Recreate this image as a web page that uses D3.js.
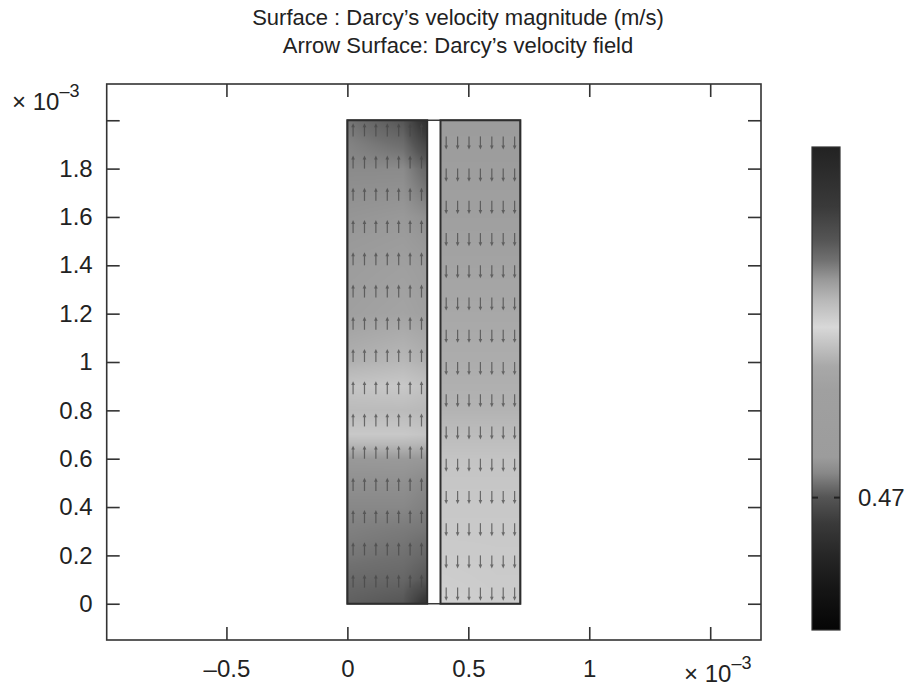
<!DOCTYPE html>
<html>
<head>
<meta charset="utf-8">
<script src="https://cdn.jsdelivr.net/npm/d3@7"></script>
<style>
  body { margin: 0; background: #fff; }
  svg { display: block; }
  text { font-family: "Liberation Sans", Arial, Helvetica, sans-serif; fill: #222; }
</style>
</head>
<body>
<svg id="chart" width="912" height="686"></svg>
<script>
// ---- data (units of 1e-3 m for geometry) ----
const titleLines = ["Surface : Darcy\u2019s velocity magnitude (m/s)", "Arrow Surface: Darcy\u2019s velocity field"];
const xTicks = [-0.5, 0, 0.5, 1, 1.5];
const yTicks = [0, 0.2, 0.4, 0.6, 0.8, 1, 1.2, 1.4, 1.6, 1.8, 2];
const upChannel = [0, 0.33];       // left channel, flow upwards
const downChannel = [0.385, 0.715]; // right channel, flow downwards
const channelHeight = [0, 2];

// velocity magnitude read along the channel height, at three positions across each channel
const fieldY       = [0, 0.1, 0.2, 0.3, 0.4, 0.5, 0.6, 0.7, 0.8, 0.9, 1.0, 1.2, 1.4, 1.6, 1.8, 1.9, 2.0];
const upLeftEdge   = [1.167, 1.146, 1.125, 1.113, 1.102, 1.091, 1.079, 0.984, 1.015, 0.994, 1.037, 1.067, 1.073, 1.084, 1.098, 1.108, 1.125];
const upInner      = [1.189, 1.154, 1.134, 1.121, 1.102, 1.091, 1.078, 0.984, 1.015, 0.984, 1.022, 1.059, 1.067, 1.079, 1.098, 1.140, 1.189];
const upRightEdge  = [1.331, 1.189, 1.154, 1.128, 1.113, 1.102, 1.080, 0.994, 1.022, 1.003, 1.037, 1.067, 1.073, 1.091, 1.154, 1.248, 1.353];
const downLeftEdge = [0.965, 0.972, 0.978, 0.982, 0.984, 0.989, 0.994, 1.013, 1.031, 1.037, 1.043, 1.052, 1.060, 1.067, 1.070, 1.072, 1.073];
const downInner    = [0.975, 0.978, 0.980, 0.982, 0.984, 0.989, 0.994, 1.013, 1.031, 1.037, 1.043, 1.052, 1.060, 1.067, 1.070, 1.072, 1.073];
const downRightEdge= [0.975, 0.978, 0.980, 0.982, 0.984, 0.989, 0.994, 1.013, 1.031, 1.037, 1.043, 1.052, 1.060, 1.067, 1.070, 1.072, 1.073];
const acrossFrac = [0, 0.7, 1];

// arrow grid (cells per channel) and direction of flow
const arrowCols = 7, arrowRows = 15;
const upDir = 1, downDir = -1;

// colour bar (grayscale rendering of the rainbow map)
const colorRange = [0.1, 1.45];
const cmapStops = [0, 0.083, 0.151, 0.222, 0.275, 0.296, 0.325, 0.358, 0.497, 0.545, 0.586, 0.627, 0.683, 0.725, 0.766, 0.807, 0.876, 1.0];
const cmapGray  = [5, 21, 37, 58, 85, 106, 136, 156, 160, 168, 192, 216, 184, 153, 112, 85, 58, 34];
const colorbarTicks = [0.47];

// ---- layout ----
const svg = d3.select("#chart");
const frame = {left: 106.7, right: 761, top: 84, bottom: 640};
const x = d3.scaleLinear().domain([-0.995, 1.71]).range([frame.left, frame.right]);
const y = d3.scaleLinear().domain([-0.15, 2.15]).range([frame.bottom, frame.top]);
const tickLen = 13;
const labelSize = "24px";

const vScale = d3.scaleLinear().domain([0, 1]).range(colorRange);
const cmap = d3.scaleLinear()
    .domain(cmapStops.map(vScale))
    .range(cmapGray.map(g => d3.rgb(g, g, g)))
    .clamp(true);

// title
svg.append("g").selectAll("text")
    .data(titleLines)
    .enter().append("text")
    .attr("x", 458)
    .attr("y", (d, i) => 25 + i * 28)
    .attr("text-anchor", "middle")
    .style("font-size", "22px")
    .text(d => d);

// ---- surface ----
function interp(arr, yy) {
  let i = d3.bisectRight(fieldY, yy) - 1;
  i = Math.max(0, Math.min(fieldY.length - 2, i));
  const t = (yy - fieldY[i]) / (fieldY[i + 1] - fieldY[i]);
  return arr[i] + (arr[i + 1] - arr[i]) * t;
}

function drawSurface(ch, cols) {
  const px0 = Math.round(x(ch[0])), px1 = Math.round(x(ch[1]));
  const py0 = Math.round(y(channelHeight[1])), py1 = Math.round(y(channelHeight[0]));
  const w = px1 - px0, h = py1 - py0;
  const cv = document.createElement("canvas");
  cv.width = w; cv.height = h;
  const ctx = cv.getContext("2d");
  const img = ctx.createImageData(w, h);
  for (let j = 0; j < h; j++) {
    const yy = y.invert(py0 + j + 0.5);
    const colVals = cols.map(c => interp(c, yy));
    for (let i = 0; i < w; i++) {
      const u = (x.invert(px0 + i + 0.5) - ch[0]) / (ch[1] - ch[0]);
      let k = u < acrossFrac[1] ? 0 : 1;
      const t = Math.max(0, Math.min(1, (u - acrossFrac[k]) / (acrossFrac[k + 1] - acrossFrac[k])));
      const v = colVals[k] + (colVals[k + 1] - colVals[k]) * t;
      const c = d3.rgb(cmap(v));
      const p = (j * w + i) * 4;
      img.data[p] = c.r; img.data[p + 1] = c.g; img.data[p + 2] = c.b; img.data[p + 3] = 255;
    }
  }
  ctx.putImageData(img, 0, 0);
  svg.append("image")
      .attr("x", px0).attr("y", py0)
      .attr("width", w).attr("height", h)
      .attr("href", cv.toDataURL());
}

drawSurface(upChannel, [upLeftEdge, upInner, upRightEdge]);
drawSurface(downChannel, [downLeftEdge, downInner, downRightEdge]);

// ---- arrows ----
function drawArrows(ch, dir) {
  const g = svg.append("g").attr("stroke", "#454545").attr("fill", "#454545").attr("opacity", 0.72);
  const pts = [];
  d3.range(arrowRows).forEach(r => d3.range(arrowCols).forEach(c => {
    pts.push({
      cx: ch[0] + (c + 0.5) * (ch[1] - ch[0]) / arrowCols,
      cy: channelHeight[0] + (r + 0.5) * (channelHeight[1] - channelHeight[0]) / arrowRows
    });
  }));
  const len = 0.054;
  g.selectAll("line").data(pts).enter().append("line")
      .attr("x1", d => x(d.cx)).attr("y1", d => y(d.cy))
      .attr("x2", d => x(d.cx)).attr("y2", d => y(d.cy + dir * len * 0.75))
      .attr("stroke-width", 1.2);
  g.selectAll("path").data(pts).enter().append("path")
      .attr("stroke", "none")
      .attr("d", d => {
        const tx = x(d.cx), ty = y(d.cy + dir * len);
        const by = y(d.cy + dir * len * 0.7);
        return `M${tx},${ty}L${tx - 1.8},${by}L${tx + 1.8},${by}Z`;
      });
}
drawArrows(upChannel, upDir);
drawArrows(downChannel, downDir);

// channel outlines
svg.append("rect")
    .attr("x", x(upChannel[0])).attr("y", y(channelHeight[1]))
    .attr("width", x(downChannel[1]) - x(upChannel[0]))
    .attr("height", y(channelHeight[0]) - y(channelHeight[1]))
    .attr("fill", "none").attr("stroke", "#3a3a3a").attr("stroke-width", 1.5);
[upChannel, downChannel].forEach(ch => {
  svg.append("rect")
      .attr("x", x(ch[0])).attr("y", y(channelHeight[1]))
      .attr("width", x(ch[1]) - x(ch[0]))
      .attr("height", y(channelHeight[0]) - y(channelHeight[1]))
      .attr("fill", "none").attr("stroke", "#2e2e2e").attr("stroke-width", 2);
});

// ---- axes ----
const fmt = d => d === 1.5 || d === 2 ? "" : (d < 0 ? "\u2013" : "") + Math.abs(d);

const gx = svg.append("g").attr("transform", `translate(0,${frame.bottom})`)
    .call(d3.axisBottom(x).tickValues(xTicks).tickSizeInner(-tickLen).tickSizeOuter(0).tickPadding(20).tickFormat(fmt));
const gxt = svg.append("g").attr("transform", `translate(0,${frame.top})`)
    .call(d3.axisTop(x).tickValues(xTicks).tickSizeInner(-tickLen).tickSizeOuter(0).tickFormat(""));
const gy = svg.append("g").attr("transform", `translate(${frame.left},0)`)
    .call(d3.axisLeft(y).tickValues(yTicks).tickSizeInner(-tickLen).tickSizeOuter(0).tickPadding(14).tickFormat(fmt));
const gyr = svg.append("g").attr("transform", `translate(${frame.right},0)`)
    .call(d3.axisRight(y).tickValues(yTicks).tickSizeInner(-tickLen).tickSizeOuter(0).tickFormat(""));

[gx, gxt, gy, gyr].forEach(g => {
  g.select(".domain").remove();
  g.selectAll(".tick line").attr("stroke", "#333").attr("stroke-width", 1.6);
  g.selectAll("text").attr("fill", "#222").style("font-size", labelSize).style("font-family", "'Liberation Sans', Arial, sans-serif");
});
gx.selectAll("text").attr("dy", "0.71em");

svg.append("rect")
    .attr("x", frame.left).attr("y", frame.top)
    .attr("width", frame.right - frame.left).attr("height", frame.bottom - frame.top)
    .attr("fill", "none").attr("stroke", "#333").attr("stroke-width", 1.6);

// exponent labels
function expLabel(px, py) {
  const t = svg.append("text").attr("x", px).attr("y", py).style("font-size", labelSize);
  t.append("tspan").text("\u00d7 10");
  t.append("tspan").attr("dy", -13).style("font-size", "18px").text("\u20133");
}
expLabel(12, 110);
expLabel(684, 682);

// ---- colour bar ----
const cb = {x: 812, w: 28, top: 147, bottom: 630};
const cbScale = d3.scaleLinear().domain(colorRange).range([cb.bottom, cb.top]);
const grad = svg.append("defs").append("linearGradient")
    .attr("id", "cbgrad").attr("x1", 0).attr("y1", 1).attr("x2", 0).attr("y2", 0);
grad.selectAll("stop").data(cmapStops).enter().append("stop")
    .attr("offset", d => d)
    .attr("stop-color", (d, i) => d3.rgb(cmapGray[i], cmapGray[i], cmapGray[i]));
svg.append("rect")
    .attr("x", cb.x).attr("y", cb.top).attr("width", cb.w).attr("height", cb.bottom - cb.top)
    .attr("fill", "url(#cbgrad)").attr("stroke", "#333").attr("stroke-width", 1.2);
colorbarTicks.forEach(v => {
  const ty = cbScale(v);
  svg.append("line").attr("x1", cb.x).attr("x2", cb.x + 6).attr("y1", ty).attr("y2", ty)
      .attr("stroke", "#222").attr("stroke-width", 2);
  svg.append("line").attr("x1", cb.x + cb.w - 6).attr("x2", cb.x + cb.w).attr("y1", ty).attr("y2", ty)
      .attr("stroke", "#222").attr("stroke-width", 2);
  svg.append("text").attr("x", 858).attr("y", ty).attr("dy", "0.35em")
      .style("font-size", labelSize).text(v);
});
</script>
</body>
</html>
